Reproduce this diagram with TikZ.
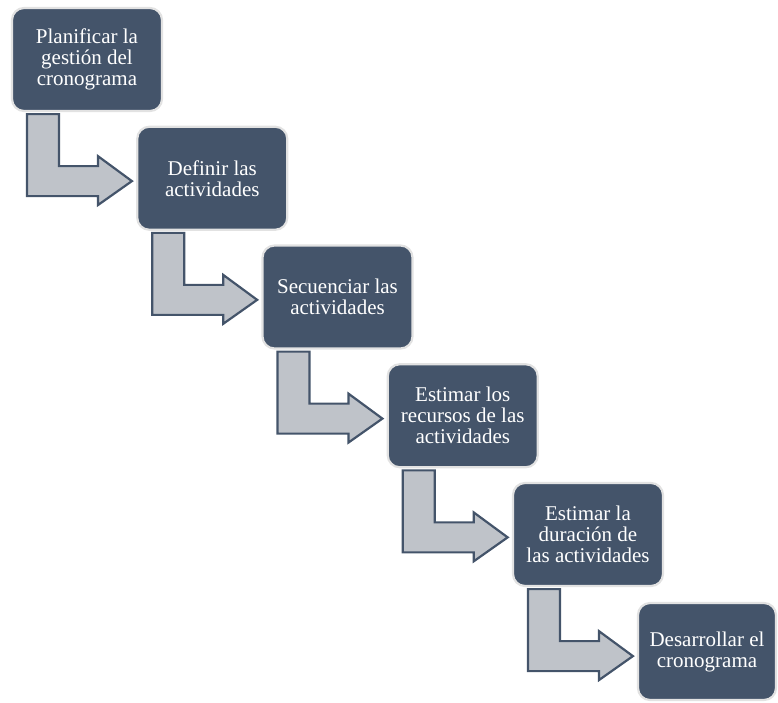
\documentclass[tikz,border=0pt]{standalone}
\usepackage{fontspec}
\setmainfont{Liberation Serif}
\usetikzlibrary{calc}
\definecolor{boxfill}{HTML}{44546A}
\definecolor{boxline}{HTML}{E2E2E2}
\definecolor{arrfill}{HTML}{BFC3C9}
\tikzset{
  stepbox/.style={rectangle, rounded corners=12pt, minimum width=150pt, minimum height=103pt,
    fill=boxfill, draw=boxline, line width=2.2pt, text=white, align=center, inner sep=2pt,
    font=\fontsize{21}{21}\selectfont},
  bentarrow/.style={fill=arrfill, draw=boxfill, line width=2.2pt, line join=miter}
}
\newcommand{\mybent}[1]{%
  \draw[bentarrow] ($(#1.south west)+(16,2)$) -- ($(#1.south west)+(48,2)$)
    -- ($(#1.south west)+(48,54)$) -- ($(#1.south west)+(87,54)$)
    -- ($(#1.south west)+(87,44)$) -- ($(#1.south west)+(121,69)$)
    -- ($(#1.south west)+(87,93)$) -- ($(#1.south west)+(87,84)$)
    -- ($(#1.south west)+(16,84)$) -- cycle;}
\begin{document}
\begin{tikzpicture}[x=1pt,y=-1pt]
\useasboundingbox (0,0) rectangle (778,702);
\node[stepbox] (b1) at (87,59.5) {Planificar la\\gestión del\\cronograma};
\node[stepbox] (b2) at (212.25,178.25) {Definir las\\actividades};
\node[stepbox] (b3) at (337.5,297) {Secuenciar las\\actividades};
\node[stepbox] (b4) at (462.75,415.75) {Estimar los\\recursos de las\\actividades};
\node[stepbox] (b5) at (588,534.5) {Estimar la\\duración de\\las actividades};
\node[stepbox, minimum width=138pt, minimum height=97pt] (b6) at (707,651.5) {Desarrollar el\\cronograma};
\mybent{b1}
\mybent{b2}
\mybent{b3}
\mybent{b4}
\mybent{b5}
\end{tikzpicture}
\end{document}
